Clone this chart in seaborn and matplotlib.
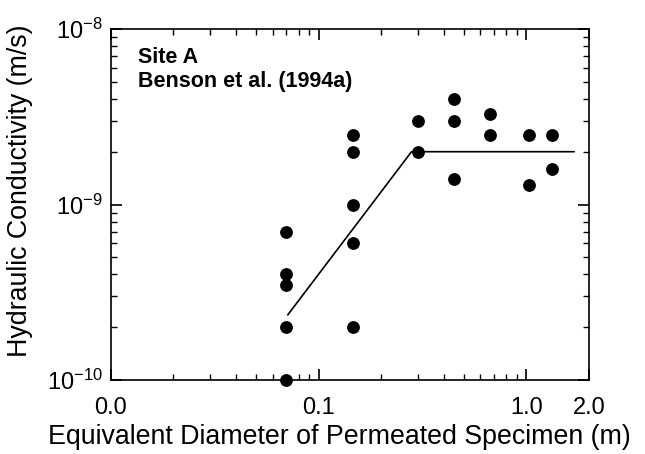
import numpy as np
import pandas as pd
import matplotlib
matplotlib.use("Agg")
import matplotlib.pyplot as plt
import seaborn as sns
from matplotlib.ticker import FixedLocator, FixedFormatter, LogLocator, NullFormatter

# Data
diameter = [0.07, 0.07, 0.07, 0.07, 0.07,
            0.146, 0.146, 0.146, 0.146, 0.146,
            0.30, 0.30,
            0.45, 0.45, 0.45,
            0.67, 0.67,
            1.03, 1.03,
            1.33, 1.33]
conductivity = [7e-10, 4e-10, 3.5e-10, 2e-10, 1e-10,
                2.5e-9, 2e-9, 1e-9, 6e-10, 2e-10,
                3e-9, 2e-9,
                4e-9, 3e-9, 1.4e-9,
                3.3e-9, 2.5e-9,
                2.5e-9, 1.3e-9,
                2.5e-9, 1.6e-9]
trend_x = [0.071, 0.28, 1.7]
trend_y = [2.35e-10, 2.0e-9, 2.0e-9]
xtick_vals = [0.01, 0.1, 1.0, 2.0]
xtick_labels = ["0.0", "0.1", "1.0", "2.0"]
ytick_vals = [1e-10, 1e-9, 1e-8]
ytick_labels = ["$10^{-10}$", "$10^{-9}$", "$10^{-8}$"]

sns.set_theme(style="ticks")
plt.rcParams['font.family'] = ['Liberation Sans', 'DejaVu Sans']
plt.rcParams['mathtext.fontset'] = 'custom'
plt.rcParams['mathtext.rm'] = 'Liberation Sans'
plt.rcParams['mathtext.it'] = 'Liberation Sans'
plt.rcParams['mathtext.default'] = 'regular'
plt.rcParams['text.color'] = 'black'
plt.rcParams['axes.labelcolor'] = 'black'

fig = plt.figure(figsize=(6.45, 4.54), dpi=100)
ax = fig.add_axes([0.172, 0.163, 0.741, 0.773])

df = pd.DataFrame({"d": diameter, "k": conductivity})
tr = pd.DataFrame({"d": trend_x, "k": trend_y})

ax.set_xscale("log")
ax.set_yscale("log")
sns.lineplot(data=tr, x="d", y="k", ax=ax, color="black", linewidth=1.2, sort=False,
             estimator=None, zorder=2)
sns.scatterplot(data=df, x="d", y="k", ax=ax, color="black", s=85, edgecolor="black",
                linewidth=0, zorder=3, clip_on=False)

ax.set_xlim(0.01, 2.0)
ax.set_ylim(1e-10, 1e-8)

ax.xaxis.set_major_locator(FixedLocator(xtick_vals))
ax.xaxis.set_major_formatter(FixedFormatter(xtick_labels))
ax.xaxis.set_minor_locator(LogLocator(base=10, subs=np.arange(2, 10)))
ax.xaxis.set_minor_formatter(NullFormatter())
ax.yaxis.set_major_locator(FixedLocator(ytick_vals))
ax.yaxis.set_major_formatter(FixedFormatter(ytick_labels))
ax.yaxis.set_minor_locator(LogLocator(base=10, subs=np.arange(2, 10)))
ax.yaxis.set_minor_formatter(NullFormatter())

ax.tick_params(which="both", direction="in", top=True, right=True, colors="black",
               labelcolor="black")
ax.tick_params(axis="x", which="major", length=8, width=1.2, pad=12, labelsize=17)
ax.tick_params(axis="y", which="major", length=8, width=1.2, pad=6, labelsize=17)
ax.tick_params(which="minor", length=4, width=1.0)
for sp in ax.spines.values():
    sp.set_linewidth(1.2)
    sp.set_color("black")

ax.set_xlabel("Equivalent Diameter of Permeated Specimen (m)", fontsize=19.3, labelpad=5)
ax.xaxis.set_label_coords(0.477, -0.125)
ax.xaxis.label.set_va("top")
ax.set_ylabel("Hydraulic Conductivity (m/s)", fontsize=19.3, labelpad=2)
ax.yaxis.set_label_coords(-0.163, 0.538)

ax.text(0.057, 0.950, "Site A", transform=ax.transAxes, fontsize=15.5,
        fontweight="bold", va="top", ha="left")
ax.text(0.057, 0.880, "Benson et al. (1994a)", transform=ax.transAxes, fontsize=15.5,
        fontweight="bold", va="top", ha="left")

fig.savefig("out.png", dpi=100)
